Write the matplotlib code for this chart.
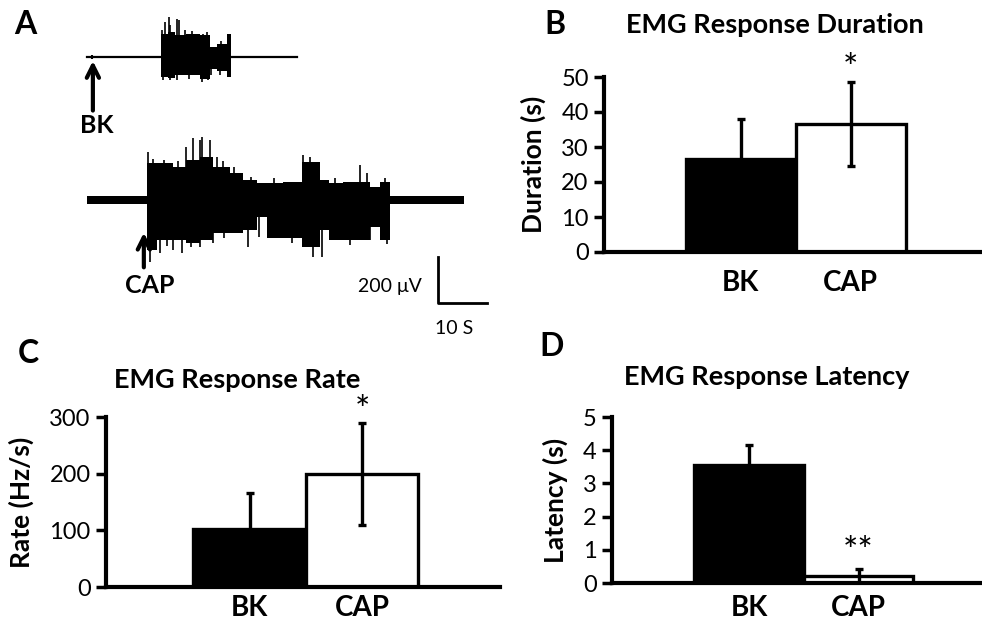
import matplotlib
matplotlib.use("Agg")
import matplotlib.pyplot as plt
import numpy as np

plt.rcParams['font.family'] = ['Lato', 'DejaVu Sans']

# ---- bar data (mean, sd) ----
groups = ["BK", "CAP"]
duration_mean = [26.5, 36.5]
duration_err = [11.5, 12.0]
rate_mean = [102, 199]
rate_err = [64, 90]
latency_mean = [3.55, 0.21]
latency_err = [0.62, 0.22]

# ---- EMG traces (panel A): time in s, amplitude in uV ----
# BK burst envelope segments: start, end, top, bottom
bk_seg_t = [15.2, 16.5, 18.0, 20.3, 23.1, 25.0, 26.6, 28.5, 29.3]
bk_seg_top = [101, 110, 96, 101, 94, 44, 55, 101]
bk_seg_bot = [-87, -92, -80, -80, -94, -51, -60, -87]
bk_spk_t = [15.4, 16.0, 16.7, 17.0, 18.4, 18.8, 20.0, 21.5, 23.7, 24.4, 27.3, 28.9]
bk_spk_v = [118, 152, 174, 138, 167, 160, 116, 112, 101, 108, 70, 101]
bk_dn_t = [15.6, 16.9, 18.4, 20.9, 23.4, 24.6, 25.4, 27.1, 28.9]
bk_dn_v = [-101, -98, -101, -96, -108, -100, -80, -80, -87]
bk_blip_t = [1.0, 6.6, 9.9, 34.0, 37.5, 40.1]
bk_blip_v = [7, 6, 5, 6, 5, 6]
bk_len = 42.9

# CAP burst envelope segments
cap_seg_t = [12.2, 14.2, 17.6, 20.3, 23.0, 25.8, 29.2, 31.9, 34.6, 36.7,
             40.1, 43.8, 47.5, 49.3, 52.3, 57.8, 59.8, 61.8]
cap_seg_top = [160, 160, 145, 174, 188, 145, 116, 87, 72, 75,
               80, 167, 87, 72, 80, 58, 80]
cap_seg_bot = [-217, -174, -174, -188, -174, -145, -145, -130, -72, -167,
               -167, -203, -130, -174, -174, -116, -174]
cap_spk_t = [12.5, 13.4, 15.8, 18.5, 20.3, 21.7, 23.1, 23.4, 25.1, 26.5,
             27.8, 29.9, 33.5, 38.2, 44.1, 45.5, 50.6, 55.7, 57.1, 60.9]
cap_spk_v = [210, 180, 175, 170, 232, 268, 261, 276, 261, 189,
             170, 145, 100, 95, 196, 189, 95, 152, 116, 95]
cap_dn_t = [12.9, 14.9, 16.3, 17.6, 19.3, 21.2, 23.1, 25.8, 28.0, 32.9,
            35.2, 41.8, 46.2, 47.9, 53.6, 57.8, 61.3]
cap_dn_v = [-268, -232, -200, -218, -232, -205, -203, -188, -165, -203,
            -160, -185, -247, -247, -195, -174, -190]
cap_len = 77.0
cap_noise = 17

W, H = 982, 626
fig = plt.figure(figsize=(W / 100, H / 100), dpi=100)


def fx(px):
    return px / W


def fy(py):
    return 1 - py / H


# ---------------- panel A ----------------
axA = fig.add_axes([0, fy(340), fx(500), 340 / H])
axA.set_xlim(-87 / 4.9, (500 - 87) / 4.9)
axA.set_ylim((200 - 340) * 4.35, 200 * 4.35)
axA.axis("off")
off = 622

# top trace
axA.plot([0, bk_len], [off, off], color="black", lw=1.6)
axA.vlines(bk_blip_t, off - np.array(bk_blip_v), off + np.array(bk_blip_v),
           color="black", lw=1.5)
axA.fill_between(bk_seg_t, off + np.array(bk_seg_top + [bk_seg_top[-1]]),
                 off + np.array(bk_seg_bot + [bk_seg_bot[-1]]),
                 step="post", color="black", lw=0)
axA.vlines(bk_spk_t, off, off + np.array(bk_spk_v), color="black", lw=1.2)
axA.vlines(bk_dn_t, off, off + np.array(bk_dn_v), color="black", lw=1.2)

# bottom trace
axA.fill_between([0, cap_len], -cap_noise, cap_noise, color="black", lw=0)
axA.fill_between(cap_seg_t, cap_seg_top + [cap_seg_top[-1]],
                 cap_seg_bot + [cap_seg_bot[-1]],
                 step="post", color="black", lw=0)
axA.vlines(cap_spk_t, 0, cap_spk_v, color="black", lw=1.2)
axA.vlines(cap_dn_t, 0, cap_dn_v, color="black", lw=1.2)

# arrows
axA.annotate("", xy=(1.2, off - 5), xytext=(1.2, off - 245),
             arrowprops=dict(arrowstyle="->", lw=3, color="black",
                             mutation_scale=22))
axA.annotate("", xy=(11.6, -130), xytext=(11.6, -305),
             arrowprops=dict(arrowstyle="->", lw=3, color="black",
                             mutation_scale=22))
axA.text(2.0, off - 296, "BK", ha="center", va="center",
         fontsize=18, fontweight="bold")
axA.text(12.9, -370, "CAP", ha="center", va="center",
         fontsize=18, fontweight="bold")

# scale bar
axA.plot([71.6, 71.6, 81.6], [-248, -448, -448], color="black", lw=2)
axA.text(68.4, -378, "200 μV", ha="right", va="center", fontsize=14)
axA.text(74.9, -557, "10 S", ha="center", va="center", fontsize=14)


# ---------------- bar panels ----------------
def bar_panel(rect, xlim, means, errs, ylim, yticks, ylabel, xpad=13):
    ax = fig.add_axes(rect)
    x = np.arange(len(means))
    ax.bar(x, means, width=1.0, color=["black", "white"],
           edgecolor="black", linewidth=2.4, zorder=2)
    ax.errorbar(x, means, yerr=errs, fmt="none", ecolor="black",
                elinewidth=2.4, capsize=3, capthick=2.4, zorder=3)
    ax.set_xlim(*xlim)
    ax.set_ylim(*ylim)
    ax.set_yticks(yticks)
    ax.set_xticks(x)
    ax.set_xticklabels(groups, fontsize=20, fontweight="bold")
    ax.tick_params(axis="x", length=0, pad=xpad)
    ax.tick_params(axis="y", length=7, width=2.5, labelsize=17, pad=4)
    for s in ["top", "right"]:
        ax.spines[s].set_visible(False)
    for s in ["left", "bottom"]:
        ax.spines[s].set_linewidth(3)
    ax.set_ylabel(ylabel, fontsize=19, fontweight="bold", labelpad=11)
    return ax


axB = bar_panel([fx(604), fy(252), fx(982 - 604), 175 / H],
                (-(740.5 - 604) / 110, (982 - 740.5) / 110),
                duration_mean, duration_err, (0, 50), [0, 10, 20, 30, 40, 50],
                "Duration (s)")
axC = bar_panel([fx(106), fy(587), fx(500 - 106), 170 / H],
                (-(249.5 - 106) / 112.5, (500 - 249.5) / 112.5),
                rate_mean, rate_err, (0, 300), [0, 100, 200, 300],
                "Rate (Hz/s)", xpad=6)
axD = bar_panel([fx(612), fy(583), fx(982 - 612), 166 / H],
                (-(749 - 612) / 109.5, (982 - 749) / 109.5),
                latency_mean, latency_err, (0, 5), [0, 1, 2, 3, 4, 5],
                "Latency (s)", xpad=9)

# significance marks
axB.text(1, duration_mean[1] + duration_err[1] - 1.0, "*", ha="center",
         va="bottom", fontsize=26)
axC.text(1, rate_mean[1] + rate_err[1] - 8, "*", ha="center",
         va="bottom", fontsize=26)
axD.text(1, latency_mean[1] + latency_err[1] + 0.0, "**", ha="center",
         va="bottom", fontsize=26)

# titles and panel letters
fig.text(fx(775), fy(25), "EMG Response Duration", ha="center", va="center",
         fontsize=19.5, fontweight="bold")
fig.text(fx(237), fy(380), "EMG Response Rate", ha="center", va="center",
         fontsize=19.5, fontweight="bold")
fig.text(fx(767), fy(377), "EMG Response Latency", ha="center", va="center",
         fontsize=19.5, fontweight="bold")
for letter, (px, py) in {"A": (25, 25), "B": (555, 25),
                         "C": (28, 353), "D": (552, 347)}.items():
    fig.text(fx(px), fy(py), letter, ha="center", va="center",
             fontsize=23, fontweight="bold")

fig.savefig("out.png", dpi=100)
